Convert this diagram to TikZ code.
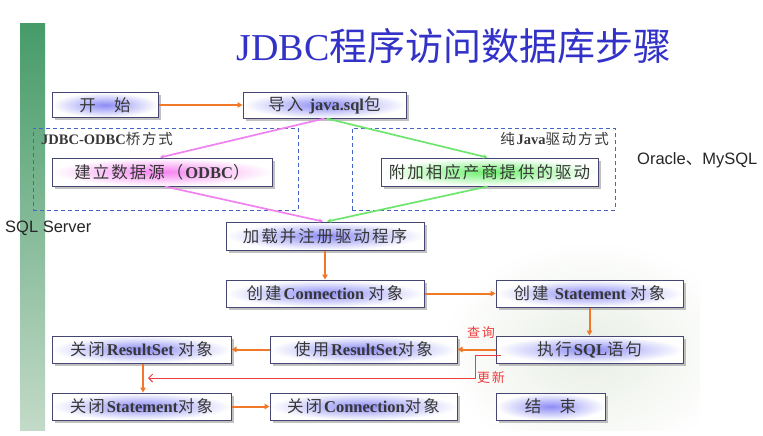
\documentclass[tikz,border=0pt]{standalone}
\usepackage{fontspec}
\setmainfont{Liberation Serif}
\newfontfamily\cjk[LetterSpace=12]{Noto Sans CJK SC}
\newfontfamily\cjktitle{Noto Sans CJK SC}
\newfontfamily\sansfam{Liberation Sans}
\usetikzlibrary{shadows,arrows.meta}
\newcommand\zhtxt[1]{{\cjk #1}}
\definecolor{boxline}{RGB}{70,70,115}
\definecolor{orangeln}{RGB}{240,120,40}
\definecolor{pinkln}{RGB}{240,130,240}
\definecolor{greenln}{RGB}{110,230,110}
\definecolor{dashblue}{RGB}{70,100,200}
\definecolor{titleblue}{RGB}{50,50,200}
\definecolor{glowblue}{RGB}{140,140,245}
\definecolor{glowpink}{RGB}{245,130,240}
\definecolor{glowgreen}{RGB}{110,240,110}
\definecolor{bartop}{RGB}{70,155,105}
\definecolor{barbot}{RGB}{195,218,200}
\definecolor{txtgray}{RGB}{55,55,55}
\definecolor{updred}{RGB}{240,60,60}
\begin{document}
\begin{tikzpicture}[x=1pt,y=-1pt,
  box/.style={draw=boxline, line width=1pt, inner color=#1, outer color=white,
    minimum height=27pt, inner sep=1pt, text=txtgray,
    font=\fontsize{16.5}{19}\selectfont,
    drop shadow={shadow xshift=2.5pt, shadow yshift=-2.5pt, fill=black!40, opacity=.6}},
  box/.default=glowblue,
  dashbox/.style={draw=dashblue, line width=1pt, dash pattern=on 4pt off 3pt},
  flow/.style={draw=orangeln, line width=2pt, -{Triangle[length=5pt,width=5.5pt]}},
  pinkflow/.style={draw=pinkln, line width=1.7pt, -{Triangle[length=4pt,width=4pt]}},
  greenflow/.style={draw=greenln, line width=1.7pt, -{Triangle[length=4pt,width=4pt]}},
  grplabel/.style={inner sep=0pt, text=txtgray, font=\fontsize{14.5}{16}\selectfont},
  redlabel/.style={inner sep=0pt, text=updred, font=\fontsize{13}{15}\selectfont},
  dblabel/.style={inner sep=0pt, text=black!85, font=\sansfam\fontsize{16.5}{19}\selectfont}
]
\useasboundingbox (0,0) rectangle (763,436);
\fill[white] (0,0) rectangle (763,436);
% faint background decoration
\begin{scope}
  \clip (45,22) rectangle (700,430);
  \shade[inner color={rgb,255:red,232;green,238;blue,228}, outer color=white] (590,350) ellipse (150 and 110);
\end{scope}
% green side bar
\shade[top color=bartop, bottom color=barbot] (20,24) rectangle (45,430);

% title
\node[inner sep=0pt, text=titleblue, font=\fontsize{38}{44}\selectfont] (title) at (454,46)
  {JDBC{\cjktitle 程序访问数据库步骤}};

% groups
\node[dashbox, minimum width=265pt, minimum height=82pt] (grpL) at (165.5,169) {};
\node[dashbox, minimum width=263pt, minimum height=82pt] (grpR) at (483.5,169) {};
\node[grplabel, anchor=west] (lblL) at (41,139) {\textbf{JDBC-ODBC}\zhtxt{桥方式}};
\node[grplabel, anchor=east] (lblR) at (609,139) {\zhtxt{纯}\textbf{Java}\zhtxt{驱动方式}};

% boxes
\node[box, minimum width=106pt, minimum height=25pt] (start) at (105,105) {\zhtxt{开\hspace{1.1em}始}};
\node[box, minimum width=163pt, minimum height=26pt] (imp) at (324.5,105) {\zhtxt{导入}~\textbf{java.sql}\zhtxt{包}};
\node[box=glowpink, minimum width=220pt, minimum height=28pt] (odbc) at (162,172) {\zhtxt{建立数据源（}\textbf{ODBC}\zhtxt{）}};
\node[box=glowgreen, minimum width=217pt, minimum height=28pt] (vendor) at (489.5,172) {\zhtxt{附加相应产商提供的驱动}};
\node[box, minimum width=198pt, minimum height=28pt] (load) at (325,236) {\zhtxt{加载并注册驱动程序}};
\node[box, minimum width=198pt] (conn) at (325,293.5) {\zhtxt{创建}\textbf{Connection}~\zhtxt{对象}};
\node[box, minimum width=187pt] (stmt) at (589.5,293.5) {\zhtxt{创建}~\textbf{Statement}~\zhtxt{对象}};
\node[box, minimum width=187pt] (exec) at (589.5,349.5) {\zhtxt{执行}\textbf{SQL}\zhtxt{语句}};
\node[box, minimum width=187pt] (use) at (363.5,349.5) {\zhtxt{使用}\textbf{ResultSet}\zhtxt{对象}};
\node[box, minimum width=179pt] (closeRS) at (141.5,349.5) {\zhtxt{关闭}\textbf{ResultSet}~\zhtxt{对象}};
\node[box, minimum width=179pt] (closeSt) at (141.5,406.5) {\zhtxt{关闭}\textbf{Statement}\zhtxt{对象}};
\node[box, minimum width=187pt] (closeConn) at (363.5,406.5) {\zhtxt{关闭}\textbf{Connection}\zhtxt{对象}};
\node[box, minimum width=109pt] (finish) at (550.5,406.5) {\zhtxt{结\hspace{1.1em}束}};

% side notes
\node[dblabel, anchor=west] (oracle) at (637,160) {Oracle{\cjktitle 、}MySQL};
\node[dblabel, anchor=west] (sqlsrv) at (5,228) {SQL Server};

% connectors
\draw[flow] (start) -- (imp);
\draw[pinkflow] (imp.south) -- ([xshift=-2pt]odbc.north);
\draw[pinkflow] ([xshift=3pt]odbc.south) -- ([xshift=-2pt]load.north);
\draw[greenflow] ([xshift=2pt]imp.south) -- ([xshift=-2pt]vendor.north);
\draw[greenflow] ([xshift=-2pt]vendor.south) -- ([xshift=2pt]load.north);
\draw[flow] (load) -- (conn);
\draw[flow] (conn) -- (stmt);
\draw[flow] (stmt) -- (exec);
\draw[flow] (exec) -- (use);
\draw[flow] (use) -- (closeRS);
\draw[flow] ([xshift=1.5pt]closeRS.south) -- ([xshift=1.5pt]closeSt.north);
\draw[flow] (closeSt) -- (closeConn);

% update path
\coordinate (updStart) at (501,355.5);
\coordinate (updEnd) at (148,378);
\draw[updred, line width=.9pt, -{Straight Barb[length=4pt,width=8pt]}] (updStart) -- ++(-26,0) |- (updEnd);
\node[redlabel] (query) at (481,333) {\zhtxt{查询}};
\node[redlabel] (update) at (491,378) {\zhtxt{更新}};
\end{tikzpicture}
\end{document}
